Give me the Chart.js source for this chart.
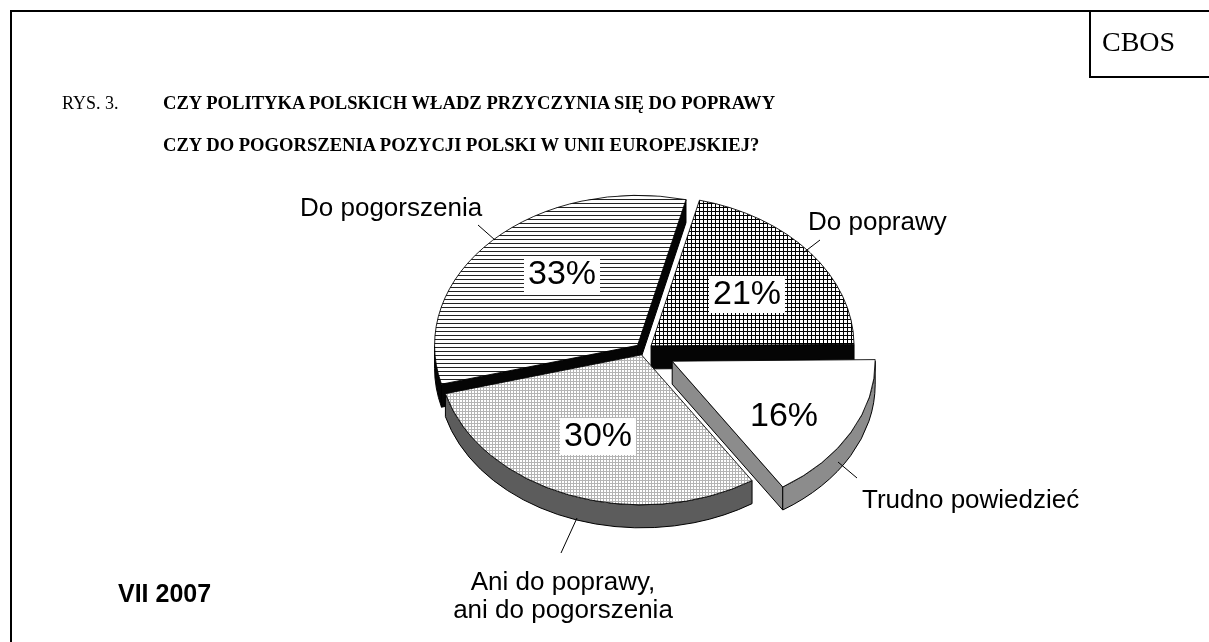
<!DOCTYPE html>
<html lang="pl">
<head>
<meta charset="utf-8">
<title>CBOS Rys. 3</title>
<script src="https://cdn.jsdelivr.net/npm/chart.js@4.4.1/dist/chart.umd.min.js"></script>
<style>
body{margin:0;background:#fff;width:1209px;height:642px;overflow:hidden;position:relative;font-family:"Liberation Sans",Arial,sans-serif;color:#000}
#chart{position:absolute;left:0;top:0}
.t{position:absolute;white-space:nowrap;z-index:2}
#frame{position:absolute;left:10px;top:10px;width:1230px;height:660px;border-left:2px solid #000;border-top:2px solid #000}
#cbosbox{position:absolute;left:1089px;top:10px;width:140px;height:66px;border-left:2px solid #000;border-bottom:2px solid #000}
.serif{font-family:"Liberation Serif","Times New Roman",serif}
.lab{font-size:26px;line-height:28px}
</style>
</head>
<body>
<div id="frame"></div>
<div id="cbosbox"></div>
<div class="t serif" style="left:1102px;top:27px;font-size:28px;line-height:30px">CBOS</div>
<div class="t serif" style="left:62px;top:82px;font-size:18px;line-height:42px">RYS. 3.</div>
<div class="t serif" style="left:163px;top:82px;font-size:18.6px;line-height:42px;font-weight:bold">CZY POLITYKA POLSKICH WŁADZ PRZYCZYNIA SIĘ DO POPRAWY<br>CZY DO POGORSZENIA POZYCJI POLSKI W UNII EUROPEJSKIEJ?</div>
<div class="t lab" style="left:300px;top:193px">Do pogorszenia</div>
<div class="t lab" style="left:808px;top:207px">Do poprawy</div>
<div class="t lab" style="left:862px;top:485px">Trudno powiedzieć</div>
<div class="t lab" style="left:423px;top:567px;width:280px;text-align:center">Ani do poprawy,<br>ani do pogorszenia</div>
<div class="t" style="left:118px;top:581px;font-size:25px;line-height:25px;font-weight:bold">VII 2007</div>
<canvas id="chart" width="1209" height="642"></canvas>
<script>
// dane z rysunku
var labels = ["Do poprawy", "Trudno powiedzieć", "Ani do poprawy, ani do pogorszenia", "Do pogorszenia"];
var values = [21, 16, 30, 33];
var pctLabels = ["21%", "16%", "30%", "33%"];

// wyglad 3D
var K = 0.739;      // splaszczenie elipsy
var DEPTH = 23;     // grubosc tortu
var explode = [9, 32, 7, 9];
var wallColors = ["#050505", "#8c8c8c", "#5c5c5c", "#050505"];
var pctPos = [[747, 294], [784, 416], [598, 436], [562, 274]];
var leaders = [[820, 240, 803, 253], [838, 462, 857, 478], [577, 518, 561, 553], [478, 225, 495, 240]];

function makePattern(w, h, paint) {
    var cv = document.createElement("canvas");
    cv.width = w; cv.height = h;
    var g = cv.getContext("2d");
    g.fillStyle = "#fff";
    g.fillRect(0, 0, w, h);
    paint(g);
    return g.createPattern(cv, "repeat");
}
var patGrid = makePattern(4, 4, function (g) {
    g.fillStyle = "#000";
    g.fillRect(0, 0, 4, 1);
    g.fillRect(0, 0, 1, 4);
});
var patDots = makePattern(3, 3, function (g) {
    g.fillStyle = "#b4b4b4";
    g.fillRect(0, 0, 3, 1);
    g.fillRect(0, 0, 1, 3);
});
var patLines = makePattern(1, 4, function (g) {
    g.fillStyle = "#222";
    g.fillRect(0, 0, 1, 1);
});
var fills = [patGrid, "#ffffff", patDots, patLines];

function drawWalls(c, s) {
    var R = s.a.outerRadius, a0 = s.a.startAngle, a1 = s.a.endAngle;
    c.save();
    c.fillStyle = wallColors[s.i];
    c.strokeStyle = "#000";
    c.lineWidth = 1;
    c.lineJoin = "round";
    function radial(t) {
        var x = s.cx + R * Math.cos(t), y = s.cy + R * K * Math.sin(t);
        c.beginPath();
        c.moveTo(s.cx, s.cy);
        c.lineTo(x, y);
        c.lineTo(x, y + DEPTH);
        c.lineTo(s.cx, s.cy + DEPTH);
        c.closePath();
        c.fill();
        c.stroke();
    }
    if (Math.cos(a0) < 0) radial(a0);
    if (Math.cos(a1) > 0) radial(a1);
    for (var n = -1; n <= 1; n++) {
        var lo = Math.max(a0, 2 * Math.PI * n), hi = Math.min(a1, 2 * Math.PI * n + Math.PI);
        if (hi > lo) {
            c.beginPath();
            c.ellipse(s.cx, s.cy, R, R * K, 0, lo, hi);
            c.ellipse(s.cx, s.cy + DEPTH, R, R * K, 0, hi, lo, true);
            c.closePath();
            c.fill();
            c.stroke();
        }
    }
    c.restore();
}

var pie3d = {
    id: "pie3d",
    beforeDatasetsDraw: function (chart) {
        var c = chart.ctx;
        var arcs = chart.getDatasetMeta(0).data;
        var parts = arcs.map(function (a, i) {
            var mid = (a.startAngle + a.endAngle) / 2;
            return {i: i, a: a, mid: mid,
                cx: a.x + explode[i] * Math.cos(mid),
                cy: a.y + explode[i] * K * Math.sin(mid)};
        });
        // sciany od tylu do przodu
        parts.slice().sort(function (u, v) { return Math.sin(u.mid) - Math.sin(v.mid); })
            .forEach(function (s) { drawWalls(c, s); });
        // wierzch
        parts.forEach(function (s) {
            var bg = fills[s.i];
            if (typeof bg !== "string") {
                var ox = s.cx - s.a.x, oy = s.cy - K * s.a.y;
                bg.setTransform(new DOMMatrix()
                    .translate(Math.round(ox) - ox, 0)
                    .scale(1, 1 / K)
                    .translate(0, Math.round(oy) - oy));
            }
            c.save();
            c.translate(s.cx, s.cy);
            c.scale(1, K);
            c.translate(-s.a.x, -s.a.y);
            s.a.draw(c);
            c.restore();
        });
        return false;
    },
    afterDraw: function (chart) {
        var c = chart.ctx;
        c.save();
        c.strokeStyle = "#000";
        c.lineWidth = 1;
        leaders.forEach(function (l) {
            c.beginPath();
            c.moveTo(l[0], l[1]);
            c.lineTo(l[2], l[3]);
            c.stroke();
        });
        c.font = "34px 'Liberation Sans', Arial, sans-serif";
        c.textAlign = "center";
        c.textBaseline = "middle";
        pctLabels.forEach(function (t, i) {
            var w = c.measureText(t).width + 8;
            var p = pctPos[i];
            c.fillStyle = "#fff";
            c.fillRect(p[0] - w / 2, p[1] - 18, w, 37);
            c.fillStyle = "#000";
            c.fillText(t, p[0], p[1] + 1);
        });
        c.restore();
    }
};

var ctx = document.getElementById("chart");
var chart = new Chart(ctx, {
    type: "pie",
    data: {
        labels: labels,
        datasets: [{
            data: values,
            backgroundColor: fills,
            borderColor: "#000",
            borderWidth: 1,
            offset: 0
        }]
    },
    options: {
        responsive: false,
        animation: false,
        rotation: 13.8,
        radius: 203,
        layout: {padding: {left: 79, top: 58, right: 0, bottom: 0}},
        plugins: {legend: {display: false}, tooltip: {enabled: false}}
    },
    plugins: [pie3d]
});
</script>
</body>
</html>
